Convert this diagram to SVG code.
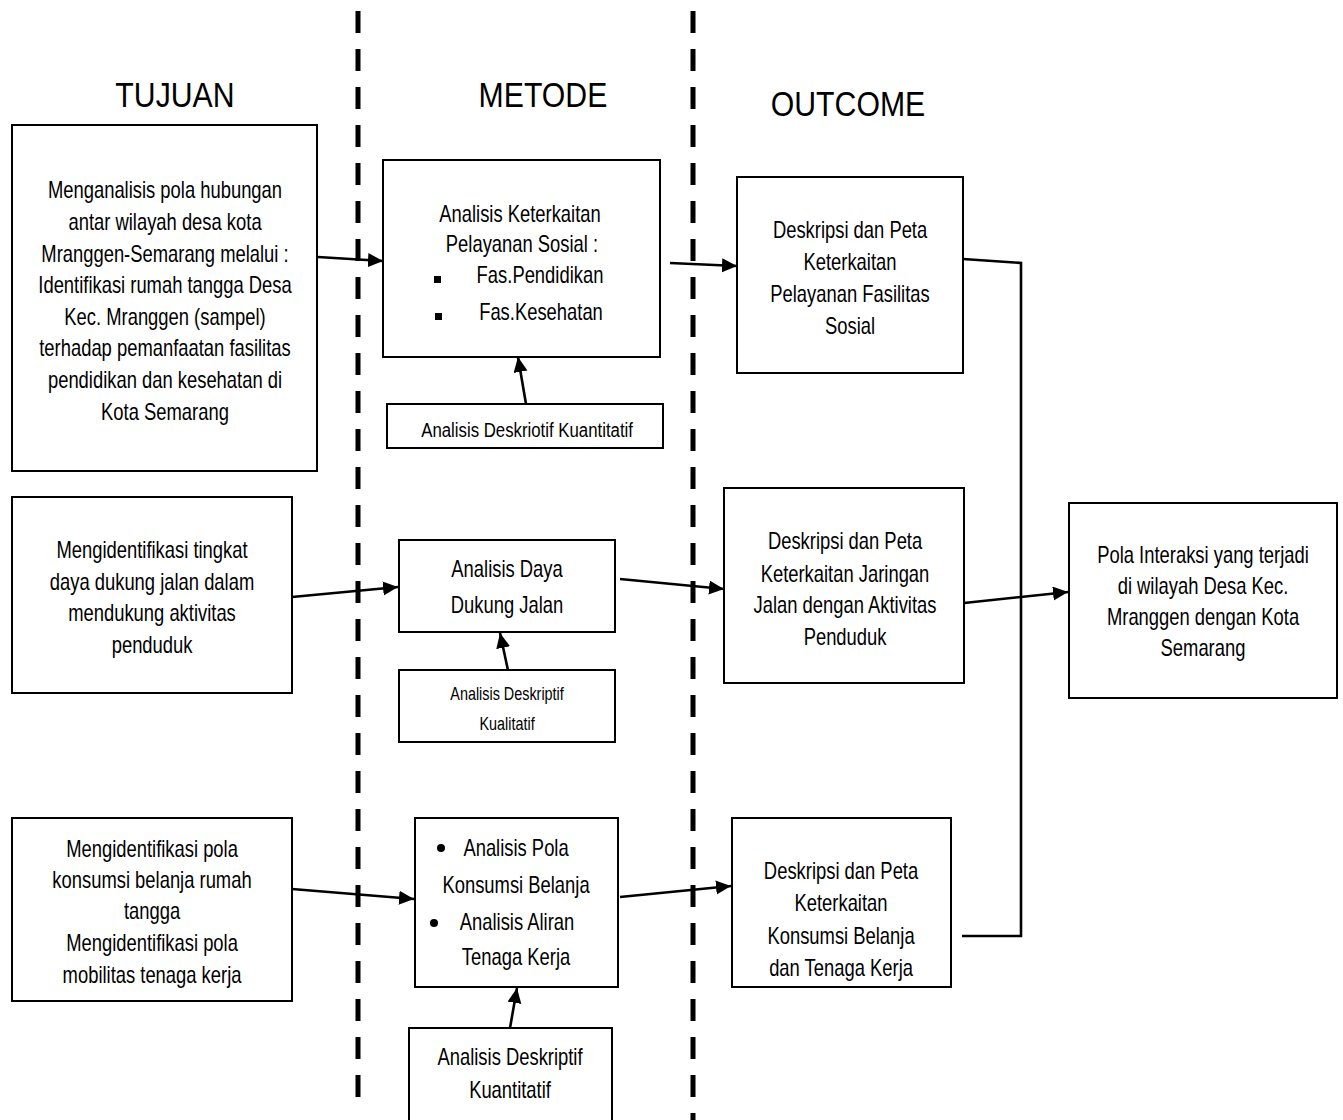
<svg xmlns="http://www.w3.org/2000/svg" width="1343" height="1120" viewBox="0 0 1343 1120">
<style>
.box{fill:#fff;stroke:#000;stroke-width:2}
.t{font-family:"Liberation Sans",Arial,sans-serif;font-size:23px;fill:#000;text-anchor:middle;transform-box:fill-box;transform-origin:center;transform:scaleX(0.8)}
.h{font-family:"Liberation Sans",Arial,sans-serif;font-size:36px;fill:#000;text-anchor:middle;transform-box:fill-box;transform-origin:center;transform:scaleX(0.84)}
.c{stroke:#000;stroke-width:2.6;fill:none}
.cl{stroke:#000;stroke-width:2.6;fill:none;marker-end:url(#ah)}
.dash{stroke:#000;stroke-width:5;stroke-dasharray:22 16;fill:none}
</style>
<defs>
<marker id="ah" markerUnits="userSpaceOnUse" markerWidth="16" markerHeight="16" refX="15" refY="7" orient="auto">
<path d="M0,0 L15,7 L0,14 z" fill="#000"/>
</marker>
</defs>
<rect width="1343" height="1120" fill="#fff"/>
<g id="separators">
<line class="dash" x1="358" y1="11" x2="358" y2="1097"/>
<line class="dash" x1="693" y1="11" x2="693" y2="1125"/>
</g>
<g id="headers">
<text class="h" x="175" y="107">TUJUAN</text>
<text class="h" x="543" y="107">METODE</text>
<text class="h" x="848" y="116">OUTCOME</text>
</g>
<g id="connectors">
<line class="cl" x1="318" y1="257" x2="383" y2="261"/>
<line class="cl" x1="526" y1="404" x2="518" y2="357"/>
<line class="cl" x1="670" y1="263" x2="737" y2="266"/>
<polyline class="c" points="963,259 1021,263 1021,936 962,936"/>
<line class="cl" x1="292" y1="597" x2="398" y2="587"/>
<line class="cl" x1="509" y1="675" x2="500" y2="633"/>
<line class="cl" x1="620" y1="579" x2="724" y2="589"/>
<line class="cl" x1="964" y1="603" x2="1068" y2="592"/>
<line class="cl" x1="292" y1="889" x2="414" y2="899"/>
<line class="cl" x1="510" y1="1028" x2="517" y2="988"/>
<line class="cl" x1="620" y1="897" x2="731" y2="886"/>
</g>
<g id="tujuan1">
<rect class="box" x="12" y="125" width="305" height="346"/>
<text class="t" x="165" y="198">Menganalisis pola hubungan</text>
<text class="t" x="165" y="230">antar wilayah desa kota</text>
<text class="t" x="165" y="262">Mranggen-Semarang melalui :</text>
<text class="t" x="165" y="293">Identifikasi rumah tangga Desa</text>
<text class="t" x="165" y="325">Kec. Mranggen (sampel)</text>
<text class="t" x="165" y="356">terhadap pemanfaatan fasilitas</text>
<text class="t" x="165" y="388">pendidikan dan kesehatan di</text>
<text class="t" x="165" y="420">Kota Semarang</text>
</g>
<g id="metode1">
<rect class="box" x="383" y="160" width="277" height="197"/>
<text class="t" x="520" y="222">Analisis Keterkaitan</text>
<text class="t" x="522" y="252">Pelayanan Sosial :</text>
<rect x="434" y="276" width="7" height="7" fill="#000"/>
<text class="t" x="540" y="283">Fas.Pendidikan</text>
<rect x="435" y="313" width="7" height="7" fill="#000"/>
<text class="t" x="541" y="320">Fas.Kesehatan</text>
</g>
<g id="metode1sub">
<rect class="box" x="387" y="404" width="276" height="44"/>
<text class="t" x="527" y="437" style="font-size:21px">Analisis Deskriotif Kuantitatif</text>
</g>
<g id="outcome1">
<rect class="box" x="737" y="177" width="226" height="196"/>
<text class="t" x="850" y="238">Deskripsi dan Peta</text>
<text class="t" x="850" y="270">Keterkaitan</text>
<text class="t" x="850" y="302">Pelayanan Fasilitas</text>
<text class="t" x="850" y="334">Sosial</text>
</g>
<g id="tujuan2">
<rect class="box" x="12" y="497" width="280" height="196"/>
<text class="t" x="152" y="558">Mengidentifikasi tingkat</text>
<text class="t" x="152" y="590">daya dukung jalan dalam</text>
<text class="t" x="152" y="621">mendukung aktivitas</text>
<text class="t" x="152" y="653">penduduk</text>
</g>
<g id="metode2">
<rect class="box" x="399" y="540" width="216" height="92"/>
<text class="t" x="507" y="577">Analisis Daya</text>
<text class="t" x="507" y="613">Dukung Jalan</text>
</g>
<g id="metode2sub">
<rect class="box" x="399" y="670" width="216" height="72"/>
<text class="t" x="507" y="700" style="font-size:18px">Analisis Deskriptif</text>
<text class="t" x="507" y="730" style="font-size:18px">Kualitatif</text>
</g>
<g id="outcome2">
<rect class="box" x="724" y="488" width="240" height="195"/>
<text class="t" x="845" y="549">Deskripsi dan Peta</text>
<text class="t" x="845" y="582">Keterkaitan Jaringan</text>
<text class="t" x="845" y="613">Jalan dengan Aktivitas</text>
<text class="t" x="845" y="645">Penduduk</text>
</g>
<g id="result">
<rect class="box" x="1069" y="503" width="268" height="195"/>
<text class="t" x="1203" y="563">Pola Interaksi yang terjadi</text>
<text class="t" x="1203" y="594">di wilayah Desa Kec.</text>
<text class="t" x="1203" y="625">Mranggen dengan Kota</text>
<text class="t" x="1203" y="656">Semarang</text>
</g>
<g id="tujuan3">
<rect class="box" x="12" y="818" width="280" height="183"/>
<text class="t" x="152" y="857">Mengidentifikasi pola</text>
<text class="t" x="152" y="888">konsumsi belanja rumah</text>
<text class="t" x="152" y="919">tangga</text>
<text class="t" x="152" y="951">Mengidentifikasi pola</text>
<text class="t" x="152" y="983">mobilitas tenaga kerja</text>
</g>
<g id="metode3">
<rect class="box" x="415" y="818" width="203" height="169"/>
<circle cx="441" cy="848" r="4" fill="#000"/>
<text class="t" x="516" y="856">Analisis Pola</text>
<text class="t" x="516" y="893">Konsumsi Belanja</text>
<circle cx="434" cy="923" r="4" fill="#000"/>
<text class="t" x="517" y="930">Analisis Aliran</text>
<text class="t" x="516" y="965">Tenaga Kerja</text>
</g>
<g id="metode3sub">
<rect class="box" x="409" y="1028" width="203" height="96"/>
<text class="t" x="510" y="1065">Analisis Deskriptif</text>
<text class="t" x="510" y="1098">Kuantitatif</text>
</g>
<g id="outcome3">
<rect class="box" x="732" y="818" width="219" height="169"/>
<text class="t" x="841" y="879">Deskripsi dan Peta</text>
<text class="t" x="841" y="911">Keterkaitan</text>
<text class="t" x="841" y="944">Konsumsi Belanja</text>
<text class="t" x="841" y="976">dan Tenaga Kerja</text>
</g>
</svg>
